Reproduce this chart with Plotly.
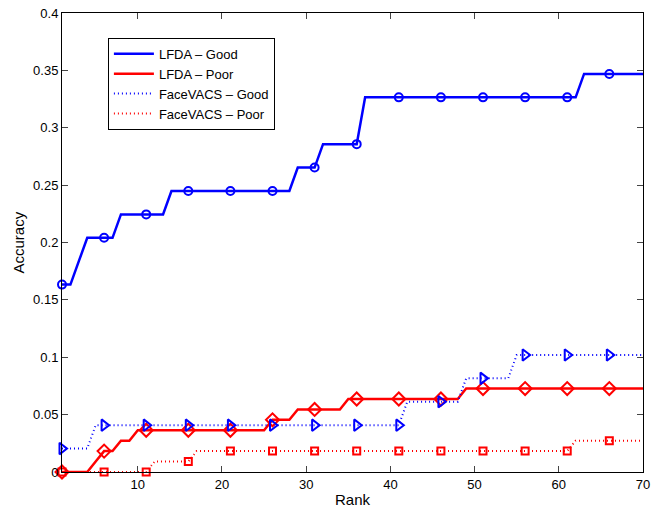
import plotly.graph_objects as go

ranks = list(range(1, 71))

lfda_good = [0.1633, 0.1633, 0.1837, 0.2041, 0.2041, 0.2041, 0.2041, 0.2245, 0.2245, 0.2245,
             0.2245, 0.2245, 0.2245, 0.2449, 0.2449, 0.2449, 0.2449, 0.2449, 0.2449, 0.2449,
             0.2449, 0.2449, 0.2449, 0.2449, 0.2449, 0.2449, 0.2449, 0.2449, 0.2653, 0.2653,
             0.2653, 0.2857, 0.2857, 0.2857, 0.2857, 0.2857, 0.3265, 0.3265, 0.3265, 0.3265,
             0.3265, 0.3265, 0.3265, 0.3265, 0.3265, 0.3265, 0.3265, 0.3265, 0.3265, 0.3265,
             0.3265, 0.3265, 0.3265, 0.3265, 0.3265, 0.3265, 0.3265, 0.3265, 0.3265, 0.3265,
             0.3265, 0.3265, 0.3469, 0.3469, 0.3469, 0.3469, 0.3469, 0.3469, 0.3469, 0.3469]

lfda_poor = [0.0, 0.0, 0.0, 0.0, 0.0091, 0.0182, 0.0182, 0.0273, 0.0273, 0.0364,
             0.0364, 0.0364, 0.0364, 0.0364, 0.0364, 0.0364, 0.0364, 0.0364, 0.0364, 0.0364,
             0.0364, 0.0364, 0.0364, 0.0364, 0.0364, 0.0455, 0.0455, 0.0455, 0.0545, 0.0545,
             0.0545, 0.0545, 0.0545, 0.0545, 0.0636, 0.0636, 0.0636, 0.0636, 0.0636, 0.0636,
             0.0636, 0.0636, 0.0636, 0.0636, 0.0636, 0.0636, 0.0636, 0.0636, 0.0727, 0.0727,
             0.0727, 0.0727, 0.0727, 0.0727, 0.0727, 0.0727, 0.0727, 0.0727, 0.0727, 0.0727,
             0.0727, 0.0727, 0.0727, 0.0727, 0.0727, 0.0727, 0.0727, 0.0727, 0.0727, 0.0727]

facevacs_good = [0.0204, 0.0204, 0.0204, 0.0204, 0.0408, 0.0408, 0.0408, 0.0408, 0.0408, 0.0408,
                 0.0408, 0.0408, 0.0408, 0.0408, 0.0408, 0.0408, 0.0408, 0.0408, 0.0408, 0.0408,
                 0.0408, 0.0408, 0.0408, 0.0408, 0.0408, 0.0408, 0.0408, 0.0408, 0.0408, 0.0408,
                 0.0408, 0.0408, 0.0408, 0.0408, 0.0408, 0.0408, 0.0408, 0.0408, 0.0408, 0.0408,
                 0.0408, 0.0612, 0.0612, 0.0612, 0.0612, 0.0612, 0.0612, 0.0612, 0.0816, 0.0816,
                 0.0816, 0.0816, 0.0816, 0.0816, 0.1020, 0.1020, 0.1020, 0.1020, 0.1020, 0.1020,
                 0.1020, 0.1020, 0.1020, 0.1020, 0.1020, 0.1020, 0.1020, 0.1020, 0.1020, 0.1020]

facevacs_poor = [0.0, 0.0, 0.0, 0.0, 0.0, 0.0, 0.0, 0.0, 0.0, 0.0,
                 0.0, 0.0091, 0.0091, 0.0091, 0.0091, 0.0091, 0.0182, 0.0182, 0.0182, 0.0182,
                 0.0182, 0.0182, 0.0182, 0.0182, 0.0182, 0.0182, 0.0182, 0.0182, 0.0182, 0.0182,
                 0.0182, 0.0182, 0.0182, 0.0182, 0.0182, 0.0182, 0.0182, 0.0182, 0.0182, 0.0182,
                 0.0182, 0.0182, 0.0182, 0.0182, 0.0182, 0.0182, 0.0182, 0.0182, 0.0182, 0.0182,
                 0.0182, 0.0182, 0.0182, 0.0182, 0.0182, 0.0182, 0.0182, 0.0182, 0.0182, 0.0182,
                 0.0182, 0.0273, 0.0273, 0.0273, 0.0273, 0.0273, 0.0273, 0.0273, 0.0273, 0.0273]

marker_ranks = [1, 6, 11, 16, 21, 26, 31, 36, 41, 46, 51, 56, 61, 66]

x_ticks = [10, 20, 30, 40, 50, 60, 70]
y_ticks = [0, 0.05, 0.1, 0.15, 0.2, 0.25, 0.3, 0.35, 0.4]
y_ticktext = ["0", "0.05", "0.1", "0.15", "0.2", "0.25", "0.3", "0.35", "0.4"]

series = [
    ("LFDA \u2013 Good", lfda_good, "#0000FF", "solid", 2.5, "circle-open", 8),
    ("LFDA \u2013 Poor", lfda_poor, "#FF0000", "solid", 2.5, "diamond-open", 10),
    ("FaceVACS \u2013 Good", facevacs_good, "#0000FF", "1px,3px", 2, "triangle-right-open", 10),
    ("FaceVACS \u2013 Poor", facevacs_poor, "#FF0000", "1px,3px", 2, "square-open", 7),
]

fig = go.Figure()
for name, vals, color, dash, lw, sym, msize in series:
    fig.add_trace(go.Scatter(
        x=ranks, y=vals, mode="lines", name=name,
        line=dict(color=color, width=lw, dash=dash),
    ))
for name, vals, color, dash, lw, sym, msize in series:
    fig.add_trace(go.Scatter(
        x=marker_ranks, y=[vals[r - 1] for r in marker_ranks], mode="markers",
        showlegend=False, cliponaxis=False,
        marker=dict(symbol=sym, size=msize, color=color, line=dict(color=color, width=2)),
    ))

font_family = "Liberation Sans, Arial, Helvetica, sans-serif"
fig.update_layout(
    width=651, height=508,
    margin=dict(l=62, r=8, t=13, b=36),
    paper_bgcolor="white", plot_bgcolor="white",
    font=dict(family=font_family, size=13, color="black"),
    legend=dict(
        x=0.079, y=0.946, xanchor="left", yanchor="top",
        bgcolor="white", bordercolor="black", borderwidth=1,
        font=dict(size=13), tracegroupgap=0, itemwidth=40,
    ),
    xaxis=dict(
        range=[1, 70], tickvals=x_ticks, ticks="inside", ticklen=6,
        showline=True, linecolor="black", linewidth=1, mirror="ticks",
        showgrid=False, zeroline=False, automargin=False,
        ticklabeloverflow="allow", tickfont=dict(size=13),
    ),
    yaxis=dict(
        range=[0, 0.4], tickvals=y_ticks, ticktext=y_ticktext, ticks="inside", ticklen=6,
        showline=True, linecolor="black", linewidth=1, mirror="ticks",
        showgrid=False, zeroline=False, automargin=False,
        ticklabeloverflow="allow", tickfont=dict(size=13),
    ),
    annotations=[
        dict(text="Rank", x=0.5, y=0, xref="paper", yref="paper",
             xanchor="center", yanchor="middle", yshift=-27, showarrow=False,
             font=dict(size=15)),
        dict(text="Accuracy", x=0, y=0.5, xref="paper", yref="paper",
             xanchor="center", yanchor="middle", xshift=-44, textangle=-90,
             showarrow=False, font=dict(size=15)),
    ],
)

fig.write_html(
    "out.html",
    config={"displayModeBar": False},
    post_script="document.body.style.margin='0px';document.body.style.overflow='hidden';",
)
